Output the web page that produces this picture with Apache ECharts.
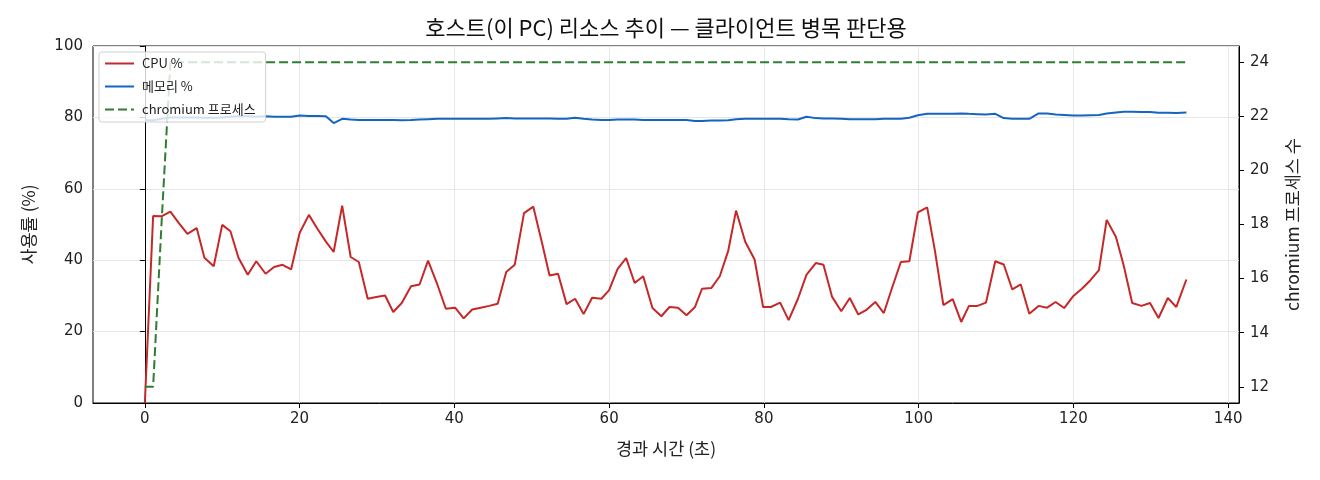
<!DOCTYPE html>
<html>
<head>
<meta charset="utf-8">
<title>호스트 리소스 추이</title>
<script src="https://cdn.jsdelivr.net/npm/echarts@6/dist/echarts.min.js"></script>
<style>
  html, body { margin: 0; padding: 0; background: #fff; }
  #chart { width: 1320px; height: 480px; }
</style>
</head>
<body>
<div id="chart"></div>
<script>
// elapsed seconds for each sample
const times = [
  0.0, 1.07, 2.15, 3.3, 4.4, 5.5, 6.7, 7.7, 8.9, 10.0,
  11.06, 12.1, 13.3, 14.4, 15.6, 16.7, 17.8, 18.9, 20.0, 21.2,
  22.3, 23.4, 24.4, 25.5, 26.6, 27.65, 28.8, 29.9, 31.05, 32.1,
  33.2, 34.4, 35.5, 36.6, 37.8, 38.9, 40.1, 41.2, 42.3, 43.4,
  44.5, 45.6, 46.7, 47.8, 49.0, 50.2, 51.3, 52.3, 53.4, 54.5,
  55.6, 56.7, 57.8, 59.0, 60.0, 61.1, 62.2, 63.3, 64.4, 65.6,
  66.75, 67.8, 68.9, 70.0, 71.1, 72.0, 73.2, 74.3, 75.4, 76.4,
  77.6, 78.8, 79.9, 80.9, 82.1, 83.2, 84.4, 85.5, 86.7, 87.7,
  88.8, 90.0, 91.1, 92.2, 93.2, 94.4, 95.5, 96.6, 97.7, 98.8,
  99.9, 101.1, 102.1, 103.2, 104.4, 105.5, 106.5, 107.6, 108.7, 109.9,
  111.0, 112.1, 113.2, 114.3, 115.5, 116.6, 117.7, 118.8, 120.0, 121.1,
  122.2, 123.3, 124.3, 125.5, 126.5, 127.6, 128.8, 129.9, 131.0, 132.2,
  133.3, 134.6
];

const cpu = [
  0, 52.4, 52.3, 53.6, 50.4, 47.4, 49.0, 40.7, 38.3, 49.9,
  48.1, 40.7, 35.9, 39.7, 36.2, 38.1, 38.7, 37.4, 47.6, 52.7,
  48.8, 45.2, 42.3, 55.3, 40.9, 39.5, 29.2, 29.7, 30.1, 25.5,
  28.0, 32.7, 33.2, 39.9, 33.2, 26.4, 26.7, 23.7, 26.2, 26.7,
  27.2, 27.8, 36.7, 38.7, 53.2, 55.0, 45.1, 35.7, 36.2, 27.7,
  29.2, 24.9, 29.5, 29.2, 31.6, 37.6, 40.6, 33.6, 35.5, 26.6,
  24.3, 26.9, 26.7, 24.6, 26.9, 32.0, 32.2, 35.5, 42.7, 53.9,
  45.1, 40.2, 26.9, 26.9, 28.1, 23.2, 29.2, 35.9, 39.2, 38.7,
  29.8, 25.7, 29.4, 24.8, 26.0, 28.3, 25.2, 32.5, 39.5, 39.7,
  53.4, 54.8, 42.7, 27.4, 29.1, 22.7, 27.2, 27.2, 28.1, 39.7,
  38.8, 31.8, 33.2, 25.0, 27.2, 26.7, 28.3, 26.6, 30.0, 32.0,
  34.4, 37.2, 51.3, 46.5, 38.5, 28.0, 27.2, 28.0, 23.8, 29.4,
  26.9, 34.6
];

const mem = [
  79.3, 79.2, 79.6, 80.0, 80.0, 80.0, 80.0, 79.9, 79.9, 80.0,
  80.2, 80.3, 80.3, 80.2, 80.3, 80.2, 80.2, 80.2, 80.5, 80.4,
  80.4, 80.3, 78.4, 79.6, 79.4, 79.3, 79.3, 79.3, 79.3, 79.3,
  79.2, 79.3, 79.4, 79.5, 79.6, 79.6, 79.6, 79.6, 79.6, 79.6,
  79.6, 79.7, 79.8, 79.7, 79.7, 79.7, 79.7, 79.7, 79.6, 79.6,
  79.9, 79.6, 79.4, 79.3, 79.3, 79.4, 79.4, 79.4, 79.3, 79.3,
  79.3, 79.3, 79.3, 79.3, 79.0, 79.0, 79.1, 79.1, 79.2, 79.5,
  79.6, 79.6, 79.6, 79.6, 79.6, 79.5, 79.4, 80.2, 79.8, 79.7,
  79.7, 79.6, 79.5, 79.5, 79.5, 79.5, 79.6, 79.6, 79.6, 79.9,
  80.6, 81.0, 81.0, 81.0, 81.0, 81.1, 81.0, 80.9, 80.8, 81.0,
  79.8, 79.6, 79.6, 79.6, 81.1, 81.1, 80.8, 80.7, 80.5, 80.5,
  80.6, 80.7, 81.1, 81.4, 81.6, 81.6, 81.5, 81.5, 81.3, 81.3,
  81.2, 81.4
];

const procs = [
  12, 12, 18, 24, 24, 24, 24, 24, 24, 24,
  24, 24, 24, 24, 24, 24, 24, 24, 24, 24,
  24, 24, 24, 24, 24, 24, 24, 24, 24, 24,
  24, 24, 24, 24, 24, 24, 24, 24, 24, 24,
  24, 24, 24, 24, 24, 24, 24, 24, 24, 24,
  24, 24, 24, 24, 24, 24, 24, 24, 24, 24,
  24, 24, 24, 24, 24, 24, 24, 24, 24, 24,
  24, 24, 24, 24, 24, 24, 24, 24, 24, 24,
  24, 24, 24, 24, 24, 24, 24, 24, 24, 24,
  24, 24, 24, 24, 24, 24, 24, 24, 24, 24,
  24, 24, 24, 24, 24, 24, 24, 24, 24, 24,
  24, 24, 24, 24, 24, 24, 24, 24, 24, 24,
  24, 24
];

const xTicks = [0, 20, 40, 60, 80, 100, 120, 140];
const rightTicks = [12, 14, 16, 18, 20, 22, 24];

const FONT = 'Noto Sans CJK KR';
const TICK_FONT = '"DejaVu Sans", "Noto Sans CJK KR"';

function pairs(vals) {
  return times.map((t, i) => [t, vals[i]]);
}

let chart = echarts.init(document.getElementById('chart'), null, { renderer: 'canvas' });

let option = {
  animation: false,
  textStyle: { fontFamily: FONT, color: '#222' },
  title: {
    text: '호스트(이 PC) 리소스 추이 — 클라이언트 병목 판단용',
    left: 666,
    top: 17,
    padding: 0,
    textAlign: 'center',
    textStyle: { fontFamily: FONT, fontSize: 22, fontWeight: 'normal', color: '#111' },
  },
  legend: {
    orient: 'vertical',
    left: 99,
    top: 52,
    padding: [5, 10, 6, 5],
    itemWidth: 29,
    itemHeight: 14,
    itemGap: 10,
    backgroundColor: 'rgba(255,255,255,0.8)',
    borderColor: '#d0d0d0',
    borderWidth: 1,
    borderRadius: 3,
    itemStyle: { opacity: 0 },
    textStyle: { fontFamily: FONT, fontSize: 13, color: '#222', padding: [0, 0, 0, 3] },
    data: ['CPU %', '메모리 %', 'chromium 프로세스'],
  },
  grid: {
    left: 93,
    right: 81,
    top: 46,
    bottom: 77,
    show: true,
    borderColor: '#000',
    borderWidth: 1,
    outerBoundsMode: 'none',
  },
  xAxis: {
    type: 'value',
    min: -6.7,
    max: 141.4,
    name: '경과 시간 (초)',
    nameLocation: 'middle',
    nameGap: 37,
    nameTextStyle: { fontFamily: FONT, fontSize: 17.5, color: '#222' },
    axisLine: { show: true, onZero: false, lineStyle: { color: '#000', width: 1 } },
    axisTick: { show: true, length: 5, customValues: xTicks, lineStyle: { color: '#000' } },
    axisLabel: { customValues: xTicks, fontFamily: TICK_FONT, fontSize: 15, margin: 9, color: '#222' },
    splitLine: { show: true, customValues: xTicks, lineStyle: { color: '#e6e6e6', width: 1 } },
  },
  yAxis: [
    {
      type: 'value',
      min: 0,
      max: 100,
      interval: 20,
      name: '사용률 (%)',
      nameLocation: 'middle',
      nameRotate: 90,
      nameGap: 56,
      nameTextStyle: { fontFamily: FONT, fontSize: 17.5, color: '#222' },
      axisLine: { show: true, lineStyle: { color: '#000', width: 1 } },
      axisTick: { show: true, length: 5, lineStyle: { color: '#000' } },
      axisLabel: { fontFamily: TICK_FONT, fontSize: 15, margin: 10, color: '#222' },
      splitLine: { show: true, lineStyle: { color: '#e6e6e6', width: 1 } },
    },
    {
      type: 'value',
      position: 'right',
      min: 11.4,
      max: 24.6,
      name: 'chromium 프로세스 수',
      nameLocation: 'middle',
      nameRotate: 90,
      nameGap: 45,
      nameTextStyle: { fontFamily: FONT, fontSize: 17.5, color: '#222' },
      axisLine: { show: true, lineStyle: { color: '#000', width: 1 } },
      axisTick: { show: true, length: 5, customValues: rightTicks, lineStyle: { color: '#000' } },
      axisLabel: { customValues: rightTicks, fontFamily: TICK_FONT, fontSize: 15, margin: 11, color: '#222' },
      splitLine: { show: false },
    },
  ],
  series: [
    {
      name: 'CPU %',
      type: 'line',
      data: pairs(cpu),
      symbol: 'none',
      lineStyle: { color: '#c62828', width: 2 },
      itemStyle: { color: '#c62828' },
      z: 3,
    },
    {
      name: '메모리 %',
      type: 'line',
      data: pairs(mem),
      symbol: 'none',
      lineStyle: { color: '#1565c0', width: 2 },
      itemStyle: { color: '#1565c0' },
      z: 3,
    },
    {
      name: 'chromium 프로세스',
      type: 'line',
      yAxisIndex: 1,
      data: pairs(procs),
      symbol: 'none',
      lineStyle: { color: '#2e7d32', width: 2, type: [9, 4] },
      itemStyle: { color: '#2e7d32' },
      z: 3,
    },
  ],
};

chart.setOption(option);
</script>
</body>
</html>
